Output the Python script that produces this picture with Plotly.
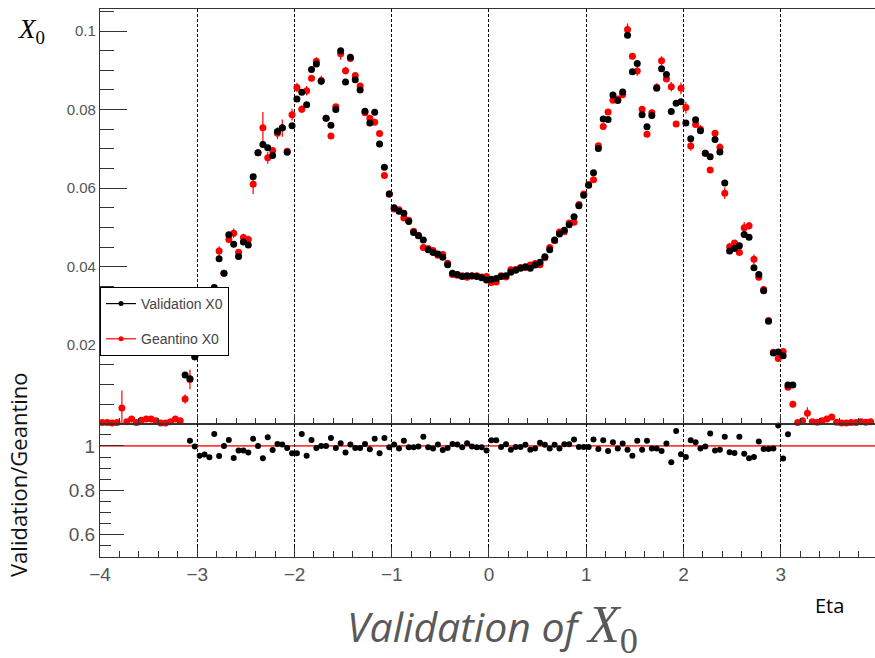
import numpy as np
import plotly.graph_objects as go

# bin centres in eta (0.05 wide bins from -4 to 4)
eta = np.round(np.arange(-3.975, 4.0, 0.05), 3)

N = None
validation_x0 = [
    N, N, N, N, N, N, N, N, N, N,
    N, N, N, N, N, N, N, 0.0124, 0.0115, 0.0171,
    0.0210, 0.0260, 0.0300, 0.0347, 0.0420, 0.0383, 0.0481, 0.0457, 0.0426, 0.0463,
    0.0455, 0.0629, 0.0690, 0.0711, 0.0703, 0.0683, 0.0744, 0.0754, 0.0691, 0.0759,
    0.0827, 0.0844, 0.0812, 0.0902, 0.0916, 0.0872, 0.0778, 0.0760, 0.0800, 0.0950,
    0.0870, 0.0933, 0.0876, 0.0850, 0.0796, 0.0766, 0.0793, 0.0712, 0.0653, 0.0585,
    0.0550, 0.0541, 0.0536, 0.0515, 0.0487, 0.0479, 0.0468, 0.0443, 0.0436, 0.0432,
    0.0424, 0.0405, 0.0383, 0.0380, 0.0375, 0.0377, 0.0376, 0.0375, 0.0372, 0.0366,
    0.0368, 0.0370, 0.0375, 0.0377, 0.0386, 0.0391, 0.0396, 0.0400, 0.0396, 0.0404,
    0.0411, 0.0425, 0.0443, 0.0468, 0.0483, 0.0493, 0.0507, 0.0527, 0.0555, 0.0582,
    0.0607, 0.0639, 0.0701, 0.0776, 0.0775, 0.0837, 0.0823, 0.0845, 0.0989, 0.0896,
    0.0917, 0.0787, 0.0756, 0.0785, 0.0854, 0.0904, 0.0889, 0.0795, 0.0816, 0.0820,
    0.0766, 0.0726, 0.0774, 0.0746, 0.0689, 0.0680, 0.0724, 0.0692, 0.0613, 0.0440,
    0.0446, 0.0453, 0.0482, 0.0475, 0.0397, 0.0380, 0.0339, 0.0261, 0.0180, 0.0183,
    0.0173, 0.0099, 0.0099, N, N, N, N, N, N, N,
    N, N, N, N, N, N, N, N, N, N,
]

geantino_x0 = [
    0.0003, 0.0003, 0.0002, 0.0003, 0.0040, 0.0005, 0.0012, 0.0003, 0.0009, 0.0012,
    0.0012, 0.0008, 0.0002, 0.0002, 0.0005, 0.0012, 0.0008, 0.0063, 0.0113, 0.0171,
    0.0220, 0.0271, 0.0316, 0.0329, 0.0440, 0.0383, 0.0469, 0.0485, 0.0437, 0.0474,
    0.0469, 0.0610, 0.0690, 0.0754, 0.0677, 0.0696, 0.0740, 0.0753, 0.0694, 0.0787,
    0.0856, 0.0801, 0.0848, 0.0880, 0.0923, 0.0874, 0.0778, 0.0733, 0.0807, 0.0942,
    0.0899, 0.0930, 0.0887, 0.0860, 0.0792, 0.0778, 0.0768, 0.0739, 0.0632, 0.0585,
    0.0547, 0.0545, 0.0524, 0.0518, 0.0490, 0.0480, 0.0449, 0.0446, 0.0441, 0.0429,
    0.0431, 0.0409, 0.0380, 0.0378, 0.0377, 0.0373, 0.0377, 0.0377, 0.0374, 0.0375,
    0.0360, 0.0361, 0.0377, 0.0374, 0.0392, 0.0393, 0.0398, 0.0398, 0.0404, 0.0408,
    0.0405, 0.0423, 0.0449, 0.0466, 0.0488, 0.0489, 0.0511, 0.0513, 0.0558, 0.0585,
    0.0609, 0.0621, 0.0708, 0.0757, 0.0794, 0.0824, 0.0827, 0.0838, 0.1004, 0.0936,
    0.0898, 0.0801, 0.0737, 0.0792, 0.0857, 0.0924, 0.0878, 0.0858, 0.0763, 0.0854,
    0.0805, 0.0707, 0.0762, 0.0750, 0.0689, 0.0646, 0.0740, 0.0704, 0.0587, 0.0451,
    0.0460, 0.0436, 0.0499, 0.0504, 0.0419, 0.0373, 0.0342, 0.0263, 0.0182, 0.0166,
    0.0184, 0.0093, 0.0050, 0.0003, 0.0008, 0.0027, 0.0005, 0.0004, 0.0008, 0.0012,
    0.0017, 0.0004, 0.0002, 0.0002, 0.0003, 0.0003, 0.0005, 0.0004, 0.0005, 0.0005,
]

geantino_err = [
    0.0003, 0.0003, 0.0003, 0.0003, 0.0045, 0.0004, 0.0005, 0.0003, 0.0004, 0.0005,
    0.0008, 0.0004, 0.0003, 0.0003, 0.0004, 0.0005, 0.0004, 0.0012, 0.0025, 0.0010,
    0.0008, 0.0008, 0.0008, 0.0008, 0.0012, 0.0006, 0.0008, 0.0012, 0.0008, 0.0010,
    0.0010, 0.0025, 0.0008, 0.0040, 0.0015, 0.0008, 0.0015, 0.0022, 0.0008, 0.0015,
    0.0012, 0.0010, 0.0012, 0.0008, 0.0010, 0.0012, 0.0006, 0.0006, 0.0006, 0.0015,
    0.0010, 0.0006, 0.0006, 0.0006, 0.0006, 0.0006, 0.0006, 0.0006, 0.0005, 0.0004,
    0.0003, 0.0003, 0.0003, 0.0003, 0.0003, 0.0003, 0.0003, 0.0003, 0.0003, 0.0003,
    0.0003, 0.0003, 0.0003, 0.0003, 0.0003, 0.0003, 0.0003, 0.0003, 0.0003, 0.0003,
    0.0003, 0.0003, 0.0003, 0.0003, 0.0003, 0.0003, 0.0003, 0.0003, 0.0003, 0.0003,
    0.0003, 0.0003, 0.0003, 0.0003, 0.0003, 0.0003, 0.0003, 0.0003, 0.0003, 0.0003,
    0.0004, 0.0005, 0.0005, 0.0006, 0.0006, 0.0006, 0.0006, 0.0008, 0.0015, 0.0008,
    0.0012, 0.0008, 0.0006, 0.0008, 0.0010, 0.0012, 0.0008, 0.0012, 0.0006, 0.0015,
    0.0015, 0.0012, 0.0008, 0.0010, 0.0008, 0.0008, 0.0008, 0.0010, 0.0015, 0.0010,
    0.0008, 0.0006, 0.0015, 0.0010, 0.0012, 0.0008, 0.0006, 0.0005, 0.0004, 0.0004,
    0.0004, 0.0004, 0.0004, 0.0003, 0.0004, 0.0015, 0.0003, 0.0003, 0.0004, 0.0004,
    0.0004, 0.0003, 0.0003, 0.0003, 0.0003, 0.0003, 0.0003, 0.0003, 0.0003, 0.0003,
]

ratio = [
    N, N, N, N, N, N, N, N, N, N,
    N, N, N, N, N, N, N, N, 1.024, 0.998,
    0.956, 0.961, 0.949, 1.054, 0.955, 1.000, 1.027, 0.946, 0.979, 0.979,
    0.970, 1.032, 1.000, 0.944, 1.039, 0.982, 1.009, 1.006, 0.991, 0.967,
    0.967, 1.054, 0.956, 1.027, 0.991, 1.000, 1.000, 1.036, 0.991, 1.012,
    0.970, 1.006, 0.991, 0.991, 1.009, 0.985, 1.033, 0.967, 1.036, 0.994,
    1.006, 0.988, 1.024, 0.994, 0.994, 0.997, 1.042, 0.994, 0.988, 1.006,
    0.982, 0.991, 1.009, 1.006, 0.994, 1.012, 0.997, 0.994, 0.994, 0.979,
    1.026, 1.026, 0.995, 1.008, 0.983, 0.995, 0.995, 1.005, 0.983, 0.989,
    1.014, 1.005, 0.989, 1.005, 0.989, 1.008, 1.008, 1.029, 0.995, 0.995,
    0.995, 1.029, 0.986, 1.026, 0.977, 1.017, 0.989, 1.011, 0.983, 0.956,
    1.023, 0.983, 1.023, 0.989, 0.989, 0.977, 1.011, 0.926, 1.068, 0.962,
    0.950, 1.026, 1.017, 0.989, 0.998, 1.056, 0.980, 0.983, 1.041, 0.971,
    0.968, 1.041, 0.965, 0.944, 0.950, 1.020, 0.986, 0.986, 0.989, 1.092,
    0.943, 1.053, N, N, N, N, N, N, N, N,
    N, N, N, N, N, N, N, N, N, N,
]

y_ticks_top = [0.02, 0.04, 0.06, 0.08, 0.1]
y_ticktext_top = ["0.02", "0.04", "0.06", "0.08", "0.1"]
y_ticks_ratio = [0.6, 0.8, 1.0]
y_ticktext_ratio = ["0.6", "0.8", "1"]

W, H = 875, 658
RED = "#ff0000"
AX = "#333333"
TICKFONT = "Liberation Sans"

fig = go.Figure()

fig.add_trace(go.Scatter(
    x=eta, y=geantino_x0, mode="markers", showlegend=False,
    marker=dict(color=RED, size=7),
    error_y=dict(type="data", array=geantino_err, color=RED, thickness=1.2, width=0),
    xaxis="x", yaxis="y", cliponaxis=False))
fig.add_trace(go.Scatter(
    x=eta, y=validation_x0, mode="markers", showlegend=False,
    marker=dict(color="black", size=7),
    xaxis="x", yaxis="y"))
# legend entries
fig.add_trace(go.Scatter(
    x=[None], y=[None], mode="lines+markers", name="Validation X0",
    line=dict(color="black", width=1.2), marker=dict(color="black", size=5),
    legendgroup="v", xaxis="x", yaxis="y"))
fig.add_trace(go.Scatter(
    x=[None], y=[None], mode="lines+markers", name="Geantino X0",
    line=dict(color=RED, width=1.2), marker=dict(color=RED, size=5),
    legendgroup="g", xaxis="x", yaxis="y"))
# ratio
fig.add_trace(go.Scatter(
    x=eta, y=ratio, mode="markers", showlegend=False,
    marker=dict(color="black", size=6),
    xaxis="x2", yaxis="y2", cliponaxis=False))

x_dom = [100 / W, 1.0]
top_dom = [(H - 423.8) / H, (H - 9) / H]
bot_dom = [(H - 556.7) / H, (H - 423.8) / H]

common_x = dict(
    range=[-4, 3.97], domain=x_dom, tick0=0, dtick=1, automargin=False,
    ticks="inside", ticklen=10, tickcolor=AX, tickwidth=1,
    minor=dict(tick0=0, dtick=0.2, ticks="inside", ticklen=6, tickcolor=AX, showgrid=False),
    showgrid=True, gridcolor="black", gridwidth=1, griddash="3px,2px",
    showline=True, linecolor=AX, linewidth=1.2, mirror=True, zeroline=False,
)

fig.update_layout(
    width=W, height=H,
    margin=dict(l=0, r=0, t=0, b=0, pad=0, autoexpand=False),
    paper_bgcolor="white", plot_bgcolor="white",
    showlegend=True,
    legend=dict(
        x=100 / W, y=(H - 287) / H, xanchor="left", yanchor="top",
        bgcolor="white", bordercolor="black", borderwidth=1,
        font=dict(family=TICKFONT, size=14, color="#444"),
        tracegroupgap=14, itemwidth=30,
    ),
    xaxis=dict(anchor="y", showticklabels=False, **common_x),
    yaxis=dict(
        anchor="x", domain=top_dom, range=[0, 0.1056], automargin=False,
        tickmode="array", tickvals=y_ticks_top, ticktext=y_ticktext_top,
        ticks="inside", ticklen=27, tickcolor=AX,
        minor=dict(tick0=0, dtick=0.005, ticks="inside", ticklen=14, tickcolor=AX, showgrid=False),
        tickfont=dict(family=TICKFONT, size=15, color="#555"),
        showgrid=False, showline=True, linecolor=AX, linewidth=1.2, mirror=True, zeroline=False,
    ),
    xaxis2=dict(anchor="y2", showticklabels=True,
                tickfont=dict(family=TICKFONT, size=19, color="#555"), **common_x),
    yaxis2=dict(
        anchor="x2", domain=bot_dom, range=[0.5, 1.1], automargin=False,
        tickmode="array", tickvals=y_ticks_ratio, ticktext=y_ticktext_ratio,
        ticks="inside", ticklen=24, tickcolor=AX,
        minor=dict(tick0=0.5, dtick=0.05, ticks="inside", ticklen=11, tickcolor=AX, showgrid=False),
        tickfont=dict(family=TICKFONT, size=19, color="#555"),
        showgrid=False, showline=True, linecolor=AX, linewidth=1.2, mirror=True, zeroline=False,
    ),
    shapes=[
        dict(type="line", xref="x2 domain", yref="y2", x0=0, x1=1, y0=1, y1=1,
             line=dict(color="#ff3b3b", width=1.8), layer="below"),
    ],
    annotations=[
        dict(text="<i>X</i><sub>0</sub>", xref="paper", yref="paper",
             x=16 / W, y=(H - 12) / H, xanchor="left", yanchor="top", showarrow=False,
             font=dict(family="Liberation Serif", size=27, color="black")),
        dict(text="Validation/Geantino", xref="paper", yref="paper", textangle=-90,
             x=18 / W, y=(H - 475) / H, xanchor="center", yanchor="middle", showarrow=False,
             font=dict(family="Open Sans", size=22, color="#111")),
        dict(text="Eta", xref="paper", yref="paper",
             x=829 / W, y=(H - 605) / H, xanchor="center", yanchor="middle", showarrow=False,
             font=dict(family="Open Sans", size=20, color="black")),
        dict(text="<i>Validation of </i><span style='font-family:Liberation Serif;font-size:52px'><i>X</i><sub>0</sub></span>",
             xref="paper", yref="paper",
             x=492 / W, y=(H - 594) / H, xanchor="center", yanchor="top", showarrow=False,
             font=dict(family="Open Sans", size=41, color="#595959")),
    ],
)

fig.write_html("out.html")
